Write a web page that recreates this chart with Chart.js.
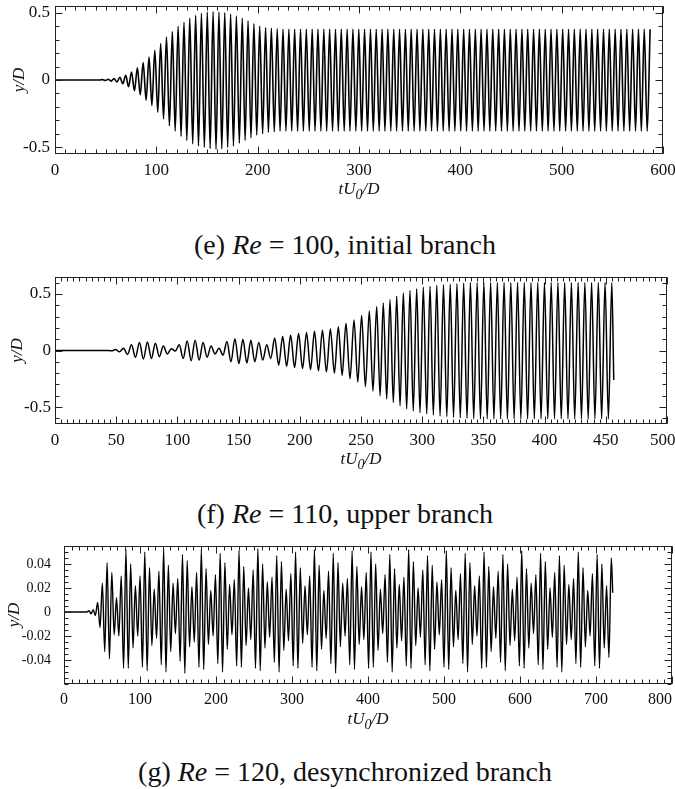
<!DOCTYPE html>
<html lang="en">
<head>
<meta charset="UTF-8">
<title>y/D against tU0/D, Re = 100, 110, 120</title>
<script src="https://cdn.jsdelivr.net/npm/chart.js"></script>
<style>
    body {
        margin: 0;
        background: #fff;
        width: 675px;
        height: 789px;
        overflow: hidden;
        position: relative;
        font-family: 'Liberation Serif', serif;
        color: #111;
    }
    canvas { position: absolute; left: 0; }
    .caption {
        position: absolute;
        left: 15px;
        width: 660px;
        text-align: center;
        font-size: 28px;
        line-height: 32px;
    }
</style>
</head>
<body>
<canvas id="chartE" width="675" height="205" style="top:0px"></canvas>
<div class="caption" style="top:229px">(e) <i>Re</i> = 100, initial branch</div>
<canvas id="chartF" width="675" height="205" style="top:265px"></canvas>
<div class="caption" style="top:498px">(f) <i>Re</i> = 110, upper branch</div>
<canvas id="chartG" width="675" height="200" style="top:535px"></canvas>
<div class="caption" style="top:756px">(g) <i>Re</i> = 120, desynchronized branch</div>

<script>
// (e) Re = 100 : extrema of y/D (time, value)
const eTime = [
    0, 44, 46.8, 49.6, 52.5, 55.4, 58.3, 61.1,
    64.0, 66.9, 69.8, 72.6, 75.5, 78.4, 81.3, 84.1,
    87.0, 89.9, 92.8, 95.6, 98.5, 101.4, 104.3, 107.1,
    110.0, 112.9, 115.8, 118.6, 121.5, 124.4, 127.3, 130.1,
    133.0, 135.9, 138.8, 141.6, 144.5, 147.4, 150.3, 153.1,
    156.0, 158.9, 161.8, 164.6, 167.5, 170.4, 173.3, 176.1,
    179.0, 181.9, 184.8, 187.6, 190.5, 193.4, 196.3, 199.1,
    202.0, 204.9, 207.8, 210.6, 213.5, 216.4, 219.3, 222.1,
    225.0, 227.9, 230.8, 233.6, 236.5, 239.4, 242.3, 245.1,
    248.0, 250.9, 253.8, 256.6, 259.5, 262.4, 265.3, 268.1,
    271.0, 273.9, 276.8, 279.6, 282.5, 285.4, 288.3, 291.1,
    294.0, 296.9, 299.8, 302.6, 305.5, 308.4, 311.3, 314.1,
    317.0, 319.9, 322.8, 325.6, 328.5, 331.4, 334.3, 337.1,
    340.0, 342.9, 345.8, 348.6, 351.5, 354.4, 357.3, 360.1,
    363.0, 365.9, 368.8, 371.6, 374.5, 377.4, 380.3, 383.1,
    386.0, 388.9, 391.8, 394.6, 397.5, 400.4, 403.3, 406.1,
    409.0, 411.9, 414.8, 417.6, 420.5, 423.4, 426.3, 429.1,
    432.0, 434.9, 437.8, 440.6, 443.5, 446.4, 449.3, 452.1,
    455.0, 457.9, 460.8, 463.6, 466.5, 469.4, 472.3, 475.1,
    478.0, 480.9, 483.8, 486.6, 489.5, 492.4, 495.3, 498.1,
    501.0, 503.9, 506.8, 509.6, 512.5, 515.4, 518.3, 521.1,
    524.0, 526.9, 529.8, 532.6, 535.5, 538.4, 541.3, 544.1,
    547.0, 549.9, 552.8, 555.6, 558.5, 561.4, 564.3, 567.1,
    570.0, 572.9, 575.8, 578.6, 581.5, 584.4, 587.3
];
const eDisp = [
    0, 0, 0.003, -0.004, 0.006, -0.008, 0.01, -0.015,
    0.02, -0.028, 0.035, -0.05, 0.06, -0.08, 0.09, -0.11,
    0.13, -0.15, 0.17, -0.19, 0.22, -0.24, 0.27, -0.29,
    0.32, -0.34, 0.36, -0.38, 0.40, -0.42, 0.43, -0.45,
    0.46, -0.475, 0.48, -0.49, 0.495, -0.50, 0.505, -0.51,
    0.507, -0.515, 0.505, -0.512, 0.50, -0.50, 0.49, -0.49,
    0.475, -0.47, 0.46, -0.45, 0.44, -0.43, 0.42, -0.41,
    0.40, -0.40, 0.39, -0.39, 0.385, -0.385, 0.38, -0.38,
    0.377, -0.38, 0.377, -0.38, 0.377, -0.38, 0.377, -0.38,
    0.377, -0.38, 0.377, -0.38, 0.377, -0.38, 0.377, -0.38,
    0.377, -0.38, 0.377, -0.38, 0.377, -0.38, 0.377, -0.38,
    0.377, -0.38, 0.377, -0.38, 0.377, -0.38, 0.377, -0.38,
    0.377, -0.38, 0.377, -0.38, 0.377, -0.38, 0.377, -0.38,
    0.377, -0.38, 0.377, -0.38, 0.377, -0.38, 0.377, -0.38,
    0.377, -0.38, 0.377, -0.38, 0.377, -0.38, 0.377, -0.38,
    0.377, -0.38, 0.377, -0.38, 0.377, -0.38, 0.377, -0.38,
    0.377, -0.38, 0.377, -0.38, 0.377, -0.38, 0.377, -0.38,
    0.377, -0.38, 0.377, -0.38, 0.377, -0.38, 0.377, -0.38,
    0.377, -0.38, 0.377, -0.38, 0.377, -0.38, 0.377, -0.38,
    0.377, -0.38, 0.377, -0.38, 0.377, -0.38, 0.377, -0.38,
    0.377, -0.38, 0.377, -0.38, 0.377, -0.38, 0.377, -0.38,
    0.377, -0.38, 0.377, -0.38, 0.377, -0.38, 0.377, -0.38,
    0.377, -0.38, 0.377, -0.38, 0.377, -0.38, 0.377, -0.38,
    0.377, -0.38, 0.377, -0.38, 0.377, -0.38, 0.377
];
const eXTicks = [0, 100, 200, 300, 400, 500, 600];
const eXLabels = ['0', '100', '200', '300', '400', '500', '600'];
const eYTicks = [-0.5, 0, 0.5];
const eYLabels = ['-0.5', '0', '0.5'];

// (f) Re = 110
const fTime = [
    0, 44, 46.25, 49.5, 52.75,
    56, 59.25, 62.5, 65.75, 69, 72.25, 75.5, 78.75,
    82, 85.25, 88.5, 91.75, 95, 98.25, 101.5, 104.75,
    108, 111.25, 114.5, 117.75, 121, 124.25, 127.5, 130.75,
    134, 137.25, 140.5, 143.75, 147, 150.25, 153.5, 156.75,
    160, 163.25, 166.5, 169.75, 173, 176.25, 179.5, 182.75,
    186, 189.25, 192.5, 195.75, 199, 202.25, 205.5, 208.75,
    212, 215.25, 218.5, 221.75, 225, 228.25, 231.5, 234.6,
    237.7, 241, 244.3, 247.4, 250.5, 253.6, 256.8, 259.8,
    262.8, 265.6, 268.2, 271, 273.7, 276.4, 279.2, 281.9,
    284.6, 287.3, 290, 292.7, 295.5, 298.2, 300.9, 303.7,
    306.4, 309.1, 311.9, 314.6, 317.4, 320.1, 322.9, 325.6,
    328.4, 331.1, 333.9, 336.6, 339.4, 342.1, 344.9, 347.6,
    350.4, 353.1, 355.9, 358.6, 361.4, 364.1, 366.9, 369.6,
    372.4, 375.1, 377.9, 380.6, 383.4, 386.1, 388.9, 391.6,
    394.4, 397.1, 399.9, 402.6, 405.4, 408.1, 410.9, 413.6,
    416.4, 419.1, 421.9, 424.6, 427.4, 430.1, 432.9, 435.6,
    438.4, 441.1, 443.9, 446.6, 449.4, 452.1, 454.9, 456.5
];
const fDisp = [
    0, 0, -0.003, 0.008, -0.012,
    0.02, -0.035, 0.05, -0.06, 0.07, -0.075, 0.075, -0.07,
    0.065, -0.055, 0.04, -0.03, 0.015, -0.005, 0.05, -0.07,
    0.085, -0.09, 0.09, -0.085, 0.07, -0.06, 0.04, -0.03,
    0.02, -0.04, 0.08, -0.10, 0.105, -0.115, 0.10, -0.11,
    0.09, -0.10, 0.07, -0.085, 0.05, -0.07, 0.11, -0.13,
    0.125, -0.14, 0.135, -0.15, 0.15, -0.16, 0.16, -0.17,
    0.17, -0.18, 0.18, -0.19, 0.19, -0.20, 0.21, -0.22,
    0.24, -0.25, 0.27, -0.28, 0.31, -0.32, 0.35, -0.36,
    0.39, -0.40, 0.42, -0.43, 0.45, -0.46, 0.48, -0.49,
    0.51, -0.515, 0.53, -0.535, 0.546, -0.55, 0.56, -0.56,
    0.566, -0.57, 0.575, -0.58, 0.58, -0.585, 0.585, -0.59,
    0.59, -0.595, 0.595, -0.60, 0.60, -0.605, 0.60, -0.605,
    0.60, -0.605, 0.60, -0.605, 0.60, -0.605, 0.60, -0.605,
    0.60, -0.605, 0.60, -0.605, 0.60, -0.605, 0.60, -0.605,
    0.60, -0.605, 0.60, -0.605, 0.60, -0.605, 0.60, -0.605,
    0.60, -0.605, 0.60, -0.605, 0.60, -0.605, 0.60, -0.605,
    0.60, -0.605, 0.60, -0.605, 0.60, -0.605, 0.60, -0.26
];
const fXTicks = [0, 50, 100, 150, 200, 250, 300, 350, 400, 450, 500];
const fXLabels = ['0', '50', '100', '150', '200', '250', '300', '350', '400', '450', '500'];
const fYTicks = [-0.5, 0, 0.5];
const fYLabels = ['-0.5', '0', '0.5'];

// (g) Re = 120
const gTime = [
    0, 30, 33, 35.5, 38.5, 41.2, 44.3, 47.4,
    50.5, 53.6, 56.7, 59.8, 62.9, 66.0, 69.1, 72.2,
    75.3, 78.4,
    81.5, 84.6, 87.7, 90.8, 93.9, 97.0, 100.1, 103.2,
    106.3, 109.4, 112.5, 115.6, 118.7, 121.8, 124.9, 128.0,
    131.1, 134.2, 137.3, 140.4, 143.5, 146.6, 149.7, 152.8,
    155.9, 159.0, 162.1, 165.2, 168.3, 171.4, 174.5, 177.6,
    180.7, 183.8, 186.9, 190.0, 193.1, 196.2, 199.3, 202.4,
    205.5, 208.6, 211.7, 214.8, 217.9, 221.0, 224.1, 227.2,
    230.3, 233.4, 236.5, 239.6, 242.7, 245.8, 248.9, 252.0,
    255.1, 258.2, 261.3, 264.4, 267.5, 270.6, 273.7, 276.8,
    279.9, 283.0, 286.1, 289.2, 292.3, 295.4, 298.5, 301.6,
    304.7, 307.8, 310.9, 314.0, 317.1, 320.2, 323.3, 326.4,
    329.5, 332.6, 335.7, 338.8, 341.9, 345.0, 348.1, 351.2,
    354.3, 357.4, 360.5, 363.6, 366.7, 369.8, 372.9, 376.0,
    379.1, 382.2, 385.3, 388.4, 391.5, 394.6, 397.7, 400.8,
    403.9, 407.0, 410.1, 413.2, 416.3, 419.4, 422.5, 425.6,
    428.7, 431.8, 434.9, 438.0, 441.1, 444.2, 447.3, 450.4,
    453.5, 456.6, 459.7, 462.8, 465.9, 469.0, 472.1, 475.2,
    478.3, 481.4, 484.5, 487.6, 490.7, 493.8, 496.9, 500.0,
    503.1, 506.2, 509.3, 512.4, 515.5, 518.6, 521.7, 524.8,
    527.9, 531.0, 534.1, 537.2, 540.3, 543.4, 546.5, 549.6,
    552.7, 555.8, 558.9, 562.0, 565.1, 568.2, 571.3, 574.4,
    577.5, 580.6, 583.7, 586.8, 589.9, 593.0, 596.1, 599.2,
    602.3, 605.4, 608.5, 611.6, 614.7, 617.8, 620.9, 624.0,
    627.1, 630.2, 633.3, 636.4, 639.5, 642.6, 645.7, 648.8,
    651.9, 655.0, 658.1, 661.2, 664.3, 667.4, 670.5, 673.6,
    676.7, 679.8, 682.9, 686.0, 689.1, 692.2, 695.3, 698.4,
    701.5, 704.6, 707.7, 710.8, 713.9, 717.0, 720.1, 722.0
];
const gDisp = [
    0, 0, 0.001, -0.0015, 0.002, -0.003, 0.008, -0.013,
    0.024, -0.033, 0.041, -0.039, 0.033, -0.019, 0.012, -0.02,
    0.03, -0.047,
    0.052, -0.047, 0.040, -0.030, 0.022, -0.020, 0.030, -0.046,
    0.050, -0.049, 0.037, -0.028, 0.019, -0.022, 0.034, -0.044,
    0.053, -0.050, 0.039, -0.033, 0.024, -0.018, 0.028, -0.041,
    0.048, -0.051, 0.043, -0.029, 0.021, -0.025, 0.033, -0.046,
    0.052, -0.048, 0.036, -0.027, 0.018, -0.020, 0.031, -0.043,
    0.049, -0.050, 0.041, -0.031, 0.023, -0.019, 0.027, -0.045,
    0.051, -0.046, 0.038, -0.028, 0.020, -0.023, 0.035, -0.047,
    0.053, -0.049, 0.040, -0.030, 0.025, -0.021, 0.029, -0.042,
    0.047, -0.050, 0.042, -0.032, 0.019, -0.024, 0.032, -0.045,
    0.050, -0.047, 0.037, -0.026, 0.022, -0.019, 0.030, -0.046,
    0.052, -0.049, 0.039, -0.031, 0.018, -0.022, 0.034, -0.043,
    0.049, -0.051, 0.041, -0.029, 0.024, -0.020, 0.028, -0.044,
    0.051, -0.048, 0.038, -0.027, 0.021, -0.023, 0.033, -0.047,
    0.050, -0.046, 0.040, -0.032, 0.019, -0.018, 0.031, -0.042,
    0.048, -0.050, 0.036, -0.030, 0.023, -0.024, 0.029, -0.045,
    0.052, -0.047, 0.042, -0.028, 0.020, -0.021, 0.035, -0.044,
    0.047, -0.049, 0.039, -0.031, 0.025, -0.019, 0.027, -0.046,
    0.051, -0.048, 0.037, -0.029, 0.018, -0.023, 0.032, -0.043,
    0.049, -0.050, 0.041, -0.027, 0.022, -0.020, 0.030, -0.047,
    0.050, -0.046, 0.038, -0.033, 0.021, -0.022, 0.034, -0.042,
    0.048, -0.049, 0.040, -0.028, 0.019, -0.024, 0.029, -0.045,
    0.051, -0.047, 0.036, -0.030, 0.024, -0.018, 0.031, -0.044,
    0.049, -0.048, 0.042, -0.031, 0.020, -0.021, 0.033, -0.046,
    0.047, -0.050, 0.039, -0.027, 0.023, -0.023, 0.028, -0.043,
    0.050, -0.046, 0.037, -0.029, 0.018, -0.020, 0.032, -0.045,
    0.048, -0.047, 0.040, -0.030, 0.022, -0.038, 0.045, 0.016
];
const gXTicks = [0, 100, 200, 300, 400, 500, 600, 700, 800];
const gXLabels = ['0', '100', '200', '300', '400', '500', '600', '700', '800'];
const gYTicks = [-0.04, -0.02, 0, 0.02, 0.04];
const gYLabels = ['-0.04', '-0.02', '0', '0.02', '0.04'];

const FONT = "'Liberation Serif', serif";

// box, inward ticks on all four sides, axis titles
const frame = {
    id: 'frame',
    afterDraw(chart, args, o) {
        const ctx = chart.ctx;
        const a = chart.chartArea;
        const sx = chart.scales.x, sy = chart.scales.y;
        ctx.save();
        ctx.strokeStyle = '#222';
        ctx.lineWidth = 1;
        const L = Math.round(a.left) + 0.5, R = Math.round(a.right) - 0.5;
        const T = Math.round(a.top) + 0.5, B = Math.round(a.bottom) - 0.5;
        ctx.strokeRect(L, T, R - L, B - T);

        ctx.beginPath();
        const xt = (v, len) => {
            const p = Math.round(sx.getPixelForValue(v)) + 0.5;
            ctx.moveTo(p, B); ctx.lineTo(p, B - len);
            ctx.moveTo(p, T); ctx.lineTo(p, T + len);
        };
        const yt = (v, len) => {
            const p = Math.round(sy.getPixelForValue(v)) + 0.5;
            ctx.moveTo(L, p); ctx.lineTo(L + len, p);
            ctx.moveTo(R, p); ctx.lineTo(R - len, p);
        };
        const minor = (scale, step, fn) => {
            const k0 = Math.ceil(scale.min / step - 1e-6), k1 = Math.floor(scale.max / step + 1e-6);
            for (let k = k0; k <= k1; k++) fn(k * step, 4);
        };
        minor(sx, o.xMinor, xt);
        minor(sy, o.yMinor, yt);
        o.xMajor.forEach(v => xt(v, 7));
        o.yMajor.forEach(v => yt(v, 7));
        ctx.stroke();

        ctx.fillStyle = '#111';
        // y/D
        ctx.save();
        ctx.translate(o.yTitleX, (a.top + a.bottom) / 2);
        ctx.rotate(-Math.PI / 2);
        ctx.font = `italic ${o.titleSize}px ${FONT}`;
        ctx.textAlign = 'center';
        ctx.textBaseline = 'middle';
        ctx.fillText('y/D', 0, 0);
        ctx.restore();

        // tU0/D with subscript
        const big = `italic ${o.titleSize}px ${FONT}`;
        const small = `italic ${Math.round(o.titleSize * 0.8)}px ${FONT}`;
        ctx.textAlign = 'left';
        ctx.textBaseline = 'alphabetic';
        ctx.font = big;
        const w1 = ctx.measureText('tU').width, w3 = ctx.measureText('/D').width;
        ctx.font = small;
        const w2 = ctx.measureText('0').width;
        let x = (a.left + a.right) / 2 - (w1 + w2 + w3) / 2;
        const y = a.bottom + o.xTitleDy;
        ctx.font = big; ctx.fillText('tU', x, y); x += w1;
        ctx.font = small; ctx.fillText('0', x, y + o.titleSize * 0.3); x += w2;
        ctx.font = big; ctx.fillText('/D', x, y);
        ctx.restore();
    }
};

function makePanel(id, p) {
    const el = document.getElementById(id);
    const H = el.height;
    const pts = p.t.map((v, i) => ({ x: v, y: p.y[i] }));
    return new Chart(el, {
        type: 'line',
        data: {
            datasets: [{
                data: pts,
                borderColor: '#000',
                borderWidth: p.lineWidth,
                pointRadius: 0,
                fill: false,
                cubicInterpolationMode: 'monotone'
            }]
        },
        options: {
            responsive: false,
            animation: false,
            events: [],
            layout: { padding: { top: p.top, right: 675 - p.right, left: 0, bottom: 0 } },
            plugins: {
                legend: { display: false },
                tooltip: { enabled: false },
                frame: {
                    xMinor: p.xMinor, yMinor: p.yMinor,
                    xMajor: p.xTicks, yMajor: p.yTicks,
                    yTitleX: p.yTitleX, xTitleDy: 40, titleSize: 17
                }
            },
            scales: {
                x: {
                    type: 'linear',
                    min: p.xMin, max: p.xMax,
                    grid: { display: false, drawTicks: false },
                    border: { display: false },
                    afterBuildTicks: s => { s.ticks = p.xTicks.map(v => ({ value: v })); },
                    afterFit: s => {
                        s.height = H - p.bottom;
                        s.paddingLeft = 0; s.paddingRight = 0;
                    },
                    ticks: {
                        autoSkip: false, maxRotation: 0, minRotation: 0,
                        padding: 6,
                        color: '#111',
                        font: { family: FONT, size: p.xFont },
                        callback: (v, i) => p.xLabels[i] + (i === p.xLabels.length - 1 ? p.lastPad : '')
                    }
                },
                y: {
                    type: 'linear',
                    min: p.yMin, max: p.yMax,
                    grid: { display: false, drawTicks: false },
                    border: { display: false },
                    afterBuildTicks: s => { s.ticks = p.yTicks.map(v => ({ value: v })); },
                    afterFit: s => {
                        s.width = p.left;
                        s.paddingTop = 0; s.paddingBottom = 0;
                    },
                    ticks: {
                        autoSkip: false,
                        padding: p.yPad,
                        color: '#111',
                        font: { family: FONT, size: p.yFont },
                        callback: (v, i) => p.yLabels[i]
                    }
                }
            }
        },
        plugins: [frame]
    });
}

makePanel('chartE', {
    t: eTime, y: eDisp,
    xMin: 0, xMax: 600, yMin: -0.55, yMax: 0.55,
    xTicks: eXTicks, xLabels: eXLabels, yTicks: eYTicks, yLabels: eYLabels,
    xMinor: 10, yMinor: 0.1,
    left: 55, right: 663, top: 6, bottom: 154,
    xFont: 17, yFont: 17, yPad: 5, yTitleX: 20, lastPad: '', lineWidth: 1.6
});
makePanel('chartF', {
    t: fTime, y: fDisp,
    xMin: 0, xMax: 500, yMin: -0.65, yMax: 0.65,
    xTicks: fXTicks, xLabels: fXLabels, yTicks: fYTicks, yLabels: fYLabels,
    xMinor: 5, yMinor: 0.1,
    left: 55, right: 667, top: 12, bottom: 159,
    xFont: 17, yFont: 17, yPad: 4, yTitleX: 18, lastPad: '\u2007', lineWidth: 1.5
});
makePanel('chartG', {
    t: gTime, y: gDisp,
    xMin: 0, xMax: 800, yMin: -0.06, yMax: 0.055,
    xTicks: gXTicks, xLabels: gXLabels, yTicks: gYTicks, yLabels: gYLabels,
    xMinor: 10, yMinor: 0.005,
    left: 64, right: 672, top: 11, bottom: 149,
    xFont: 16, yFont: 14, yPad: 13, yTitleX: 15, lastPad: '\u2007\u2007\u2007', lineWidth: 1.4
});
</script>
</body>
</html>
